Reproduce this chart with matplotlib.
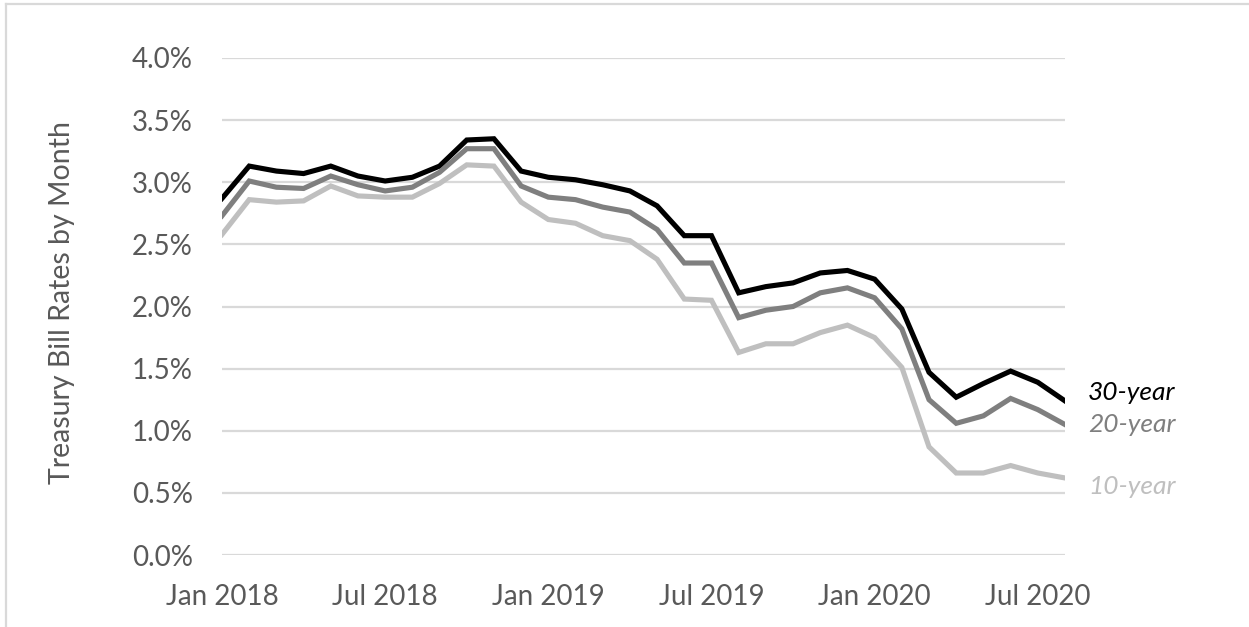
import matplotlib
matplotlib.use("Agg")
import matplotlib.pyplot as plt
from matplotlib.lines import Line2D
from matplotlib.ticker import FuncFormatter

# Monthly average yields, Jan 2018 - Aug 2020 (percent)
months = ["Jan 2018", "Feb 2018", "Mar 2018", "Apr 2018", "May 2018", "Jun 2018",
          "Jul 2018", "Aug 2018", "Sep 2018", "Oct 2018", "Nov 2018", "Dec 2018",
          "Jan 2019", "Feb 2019", "Mar 2019", "Apr 2019", "May 2019", "Jun 2019",
          "Jul 2019", "Aug 2019", "Sep 2019", "Oct 2019", "Nov 2019", "Dec 2019",
          "Jan 2020", "Feb 2020", "Mar 2020", "Apr 2020", "May 2020", "Jun 2020",
          "Jul 2020", "Aug 2020"]

yield_30 = [2.87, 3.13, 3.09, 3.07, 3.13, 3.05, 3.01, 3.04, 3.13, 3.34, 3.35, 3.09,
            3.04, 3.02, 2.98, 2.93, 2.81, 2.57, 2.57, 2.11, 2.16, 2.19, 2.27, 2.29,
            2.22, 1.98, 1.47, 1.27, 1.38, 1.48, 1.39, 1.24]

yield_20 = [2.73, 3.01, 2.96, 2.95, 3.05, 2.98, 2.93, 2.96, 3.08, 3.27, 3.27, 2.97,
            2.88, 2.86, 2.80, 2.76, 2.62, 2.35, 2.35, 1.91, 1.97, 2.00, 2.11, 2.15,
            2.07, 1.82, 1.25, 1.06, 1.12, 1.26, 1.17, 1.05]

yield_10 = [2.58, 2.86, 2.84, 2.85, 2.97, 2.89, 2.88, 2.88, 2.99, 3.14, 3.13, 2.84,
            2.70, 2.67, 2.57, 2.53, 2.38, 2.06, 2.05, 1.63, 1.70, 1.70, 1.79, 1.85,
            1.75, 1.51, 0.87, 0.66, 0.66, 0.72, 0.66, 0.62]

series_names = ["30-year", "20-year", "10-year"]
series_values = [yield_30, yield_20, yield_10]
series_colors = ["#000000", "#7f7f7f", "#bfbfbf"]
label_offsets = [(16.5, 6), (16.5, 0), (16.5, -6.5)]

tick_months = ["Jan 2018", "Jul 2018", "Jan 2019", "Jul 2019", "Jan 2020", "Jul 2020"]
y_ticks = [0.0, 0.5, 1.0, 1.5, 2.0, 2.5, 3.0, 3.5, 4.0]

plt.rcParams["font.family"] = ["Lato", "DejaVu Sans"]

W, H = 1249, 627
fig = plt.figure(figsize=(W / 100, H / 100), dpi=100)
ax = fig.add_axes([222 / W, 72 / H, (1065 - 222) / W, (555 - 58) / H])

x = list(range(len(months)))
for name, vals, col, off in zip(series_names, series_values, series_colors, label_offsets):
    ax.plot(x, vals, color=col, lw=3.7, solid_joinstyle="miter", zorder=3)
    ax.annotate(name, xy=(x[-1], vals[-1]), xytext=off, textcoords="offset points",
                ha="left", va="center", color=col, fontsize=19, style="italic",
                annotation_clip=False)

ax.set_xlim(0, len(months) - 1)
ax.set_ylim(0, 4.0)
ax.set_xticks([months.index(m) for m in tick_months])
ax.set_xticklabels(tick_months)
ax.set_yticks(y_ticks)
ax.yaxis.set_major_formatter(FuncFormatter(lambda v, p: f"{v:.1f}%"))

ax.tick_params(axis="both", length=0, labelsize=20, labelcolor="#595959")
ax.tick_params(axis="x", pad=21)
ax.tick_params(axis="y", pad=21)
ax.grid(axis="y", color="#d9d9d9", lw=1.6, zorder=0)
ax.set_axisbelow(True)
for s in ax.spines.values():
    s.set_visible(False)

ax.set_ylabel("Treasury Bill Rates by Month", fontsize=20.5, color="#595959")
ax.yaxis.label.set_va("center")
ax.yaxis.set_label_coords(-(222 - 62) / (1065 - 222), (555 - 303) / (555 - 58))

# light frame along the top and left edges
fig.add_artist(Line2D([6 / W, 6 / W], [0, 1 - 4 / H], transform=fig.transFigure,
                      color="#d9d9d9", lw=1.6))
fig.add_artist(Line2D([6 / W, 1], [1 - 4 / H, 1 - 4 / H], transform=fig.transFigure,
                      color="#d9d9d9", lw=1.6))

fig.savefig("out.png", dpi=100)
